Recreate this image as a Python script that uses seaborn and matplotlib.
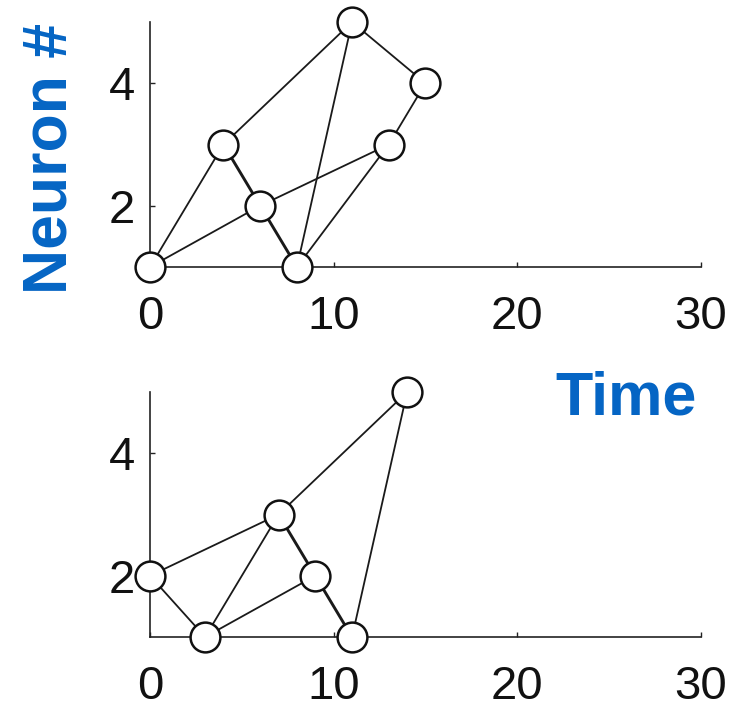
import matplotlib
matplotlib.use("Agg")
import matplotlib.pyplot as plt
import seaborn as sns
import pandas as pd

# ---- data ----
top_time = [0, 4, 6, 8, 11, 13, 15]
top_neuron = [1, 3, 2, 1, 5, 3, 4]
top_edges = [(0, 1), (0, 2), (1, 4), (4, 6), (4, 3), (2, 5), (3, 5), (5, 6)]
top_thick = [(1, 2), (2, 3)]

bot_time = [0, 3, 7, 9, 11, 14]
bot_neuron = [2, 1, 3, 2, 1, 5]
bot_edges = [(0, 2), (0, 1), (1, 2), (1, 3), (2, 5), (4, 5)]
bot_thick = [(2, 3), (3, 4)]

x_ticks = [0, 10, 20, 30]
y_ticks = [2, 4]
xlabel = "Time"
ylabel = "Neuron #"

sns.set_theme(style="ticks")
plt.rcParams["font.family"] = ["Liberation Sans", "DejaVu Sans"]

W, H = 747, 712
fig = plt.figure(figsize=(W / 100, H / 100), dpi=100)
ax_top = fig.add_axes([150 / W, 1 - 267 / H, 551 / W, 245 / H])
ax_bot = fig.add_axes([150 / W, 1 - 637 / H, 551 / W, 245 / H])


def edge_frame(times, neurons, edges):
    rows = []
    for k, (a, b) in enumerate(edges):
        rows.append({"edge": k, "t": times[a], "n": neurons[a]})
        rows.append({"edge": k, "t": times[b], "n": neurons[b]})
    return pd.DataFrame(rows)


def draw(ax, times, neurons, edges, thick):
    sns.lineplot(data=edge_frame(times, neurons, edges), x="t", y="n",
                 units="edge", estimator=None, sort=False, color="#1a1a1a",
                 linewidth=1.3, ax=ax, zorder=2)
    sns.lineplot(data=edge_frame(times, neurons, thick), x="t", y="n",
                 units="edge", estimator=None, sort=False, color="#1a1a1a",
                 linewidth=2.1, ax=ax, zorder=2)
    nodes = pd.DataFrame({"t": times, "n": neurons})
    sns.scatterplot(data=nodes, x="t", y="n", s=460, color="white",
                    edgecolor="#111111", linewidth=1.8, ax=ax, zorder=4)
    for c in ax.collections:
        c.set_clip_on(False)
    for l in ax.lines:
        l.set_clip_on(False)
    ax.set_xlim(0, 30)
    ax.set_ylim(1, 5)
    ax.set_xticks(x_ticks)
    ax.set_yticks(y_ticks)
    ax.set_xlabel("")
    ax.set_ylabel("")
    ax.tick_params(axis="both", direction="in", length=3.5, width=1,
                   colors="#222222", labelsize=34, labelcolor="#111111")
    ax.tick_params(axis="x", pad=20)
    ax.tick_params(axis="y", pad=11)
    for s in ("top", "right"):
        ax.spines[s].set_visible(False)
    for s in ("left", "bottom"):
        ax.spines[s].set_linewidth(1.2)
        ax.spines[s].set_color("#222222")
    ax.set_facecolor("white")


draw(ax_top, top_time, top_neuron, top_edges, top_thick)
draw(ax_bot, bot_time, bot_neuron, bot_edges, bot_thick)

blue = "#0565C4"
fig.text(697 / W, 1 - 415 / H, xlabel, ha="right", va="baseline",
         fontsize=44, fontweight="bold", color=blue)
fig.text(50 / W, 1 - 158 / H, ylabel, ha="center", va="center",
         rotation=90, fontsize=45, fontweight="bold", color=blue)

fig.savefig("out.png", dpi=100, facecolor="white")
